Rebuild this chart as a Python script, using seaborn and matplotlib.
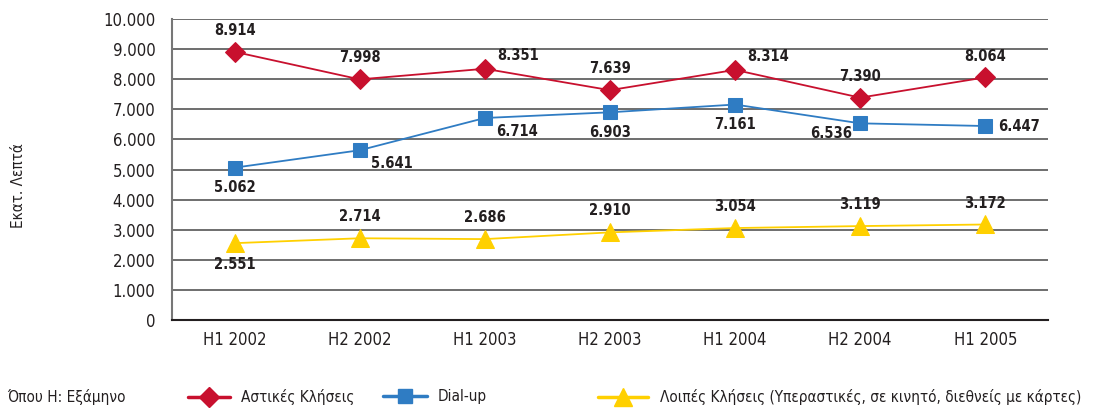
import matplotlib
matplotlib.use("Agg")
import matplotlib.pyplot as plt
import seaborn as sns
import pandas as pd
import numpy as np
from matplotlib.lines import Line2D

periods = ["H1 2002", "H2 2002", "H1 2003", "H2 2003", "H1 2004", "H2 2004", "H1 2005"]
local_calls = [8914, 7998, 8351, 7639, 8314, 7390, 8064]
dialup = [5062, 5641, 6714, 6903, 7161, 6536, 6447]
other_calls = [2551, 2714, 2686, 2910, 3054, 3119, 3172]
series_names = ["Αστικές Κλήσεις", "Dial-up",
                "Λοιπές Κλήσεις (Υπεραστικές, σε κινητό, διεθνείς με κάρτες)"]
y_ticks = [0, 1000, 2000, 3000, 4000, 5000, 6000, 7000, 8000, 9000, 10000]

colors = ["#C8102E", "#2F7CC3", "#FFD000"]
markers = ["D", "s", "^"]
msizes = [10.5, 10.5, 12.5]

sns.set_style("white")
plt.rcParams['font.family'] = ['DejaVu Sans']

df = pd.DataFrame({
    "period": periods * 3,
    "x": list(range(len(periods))) * 3,
    "value": local_calls + dialup + other_calls,
    "series": [series_names[0]] * 7 + [series_names[1]] * 7 + [series_names[2]] * 7,
})

fig = plt.figure(figsize=(11.1, 4.08), dpi=100)
ax = fig.add_axes([0.155, 0.216, 0.789, 0.737])

for i, name in enumerate(series_names):
    sub = df[df.series == name]
    sns.lineplot(data=sub, x="x", y="value", ax=ax, color=colors[i], lw=1.3,
                 marker=markers[i], markersize=msizes[i], markeredgecolor=colors[i],
                 legend=False, zorder=3)

ax.set_xlim(-0.5, 6.5)
ax.set_ylim(0, 10000)
ax.set_yticks(y_ticks)
ax.set_yticklabels([f"{v:,}".replace(",", ".") for v in y_ticks],
                   fontsize=12, fontstretch="condensed", color="#231F20")
ax.set_xticks(range(len(periods)))
ax.set_xticklabels(periods, fontsize=12, fontstretch="condensed", color="#231F20")
ax.set_xticks(np.arange(0.5, 6.5, 1), minor=True)
ax.tick_params(axis="x", which="major", length=0, pad=8)
ax.tick_params(axis="x", which="minor", length=6, width=1.2, color="#231F20", direction="out")
ax.tick_params(axis="y", which="major", length=6, width=1.2, color="#231F20", direction="out", pad=6)
ax.set_xlabel("")
ax.set_ylabel("")
ax.grid(axis="y", color="#555555", lw=1.2)
ax.set_axisbelow(True)
for s in ["top", "right"]:
    ax.spines[s].set_visible(False)
ax.spines["left"].set_color("#777777")
ax.spines["left"].set_linewidth(1.5)
ax.spines["bottom"].set_color("#231F20")
ax.spines["bottom"].set_linewidth(1.5)

lab_kw = dict(fontsize=10.5, fontweight="bold", fontstretch="condensed", color="#231F20")

def fmt(v):
    return f"{v:,}".replace(",", ".")

# offsets in points (dx, dy, ha, va)
red_pos = [(0, 10, "center", "bottom"), (0, 10, "center", "bottom"), (9, 4, "left", "bottom"),
           (0, 10, "center", "bottom"), (9, 4, "left", "bottom"), (0, 10, "center", "bottom"),
           (0, 10, "center", "bottom")]
blue_pos = [(0, -9, "center", "top"), (8, -4, "left", "top"), (8, -4, "left", "top"),
            (0, -9, "center", "top"), (0, -9, "center", "top"), (-6, -2, "right", "top"),
            (9, 0, "left", "center")]
yel_pos = [(0, -10, "center", "top")] + [(0, 10, "center", "bottom")] * 6

for vals, pos in [(local_calls, red_pos), (dialup, blue_pos), (other_calls, yel_pos)]:
    for i, v in enumerate(vals):
        dx, dy, ha, va = pos[i]
        ax.annotate(fmt(v), (i, v), xytext=(dx, dy), textcoords="offset points",
                    ha=ha, va=va, **lab_kw)

fig.text(0.017, 0.545, "Εκατ. Λεπτά", rotation=90, ha="center", va="center",
         fontsize=11, fontstretch="condensed", color="#231F20")
fig.text(0.006, 0.027, "Όπου Η: Εξάμηνο", ha="left", va="center",
         fontsize=11, fontstretch="condensed", color="#231F20")

handles = [Line2D([0], [0], color=colors[i], lw=2.5, marker=markers[i],
                  markersize=msizes[i], markeredgecolor=colors[i]) for i in range(3)]
anchors = [188, 383, 598]
hlens = [2.75, 2.85, 3.3]
for i in range(3):
    leg = fig.legend([handles[i]], [series_names[i]], loc="center left",
                     bbox_to_anchor=(anchors[i] / 1110, 0.027), frameon=False,
                     handlelength=hlens[i], handletextpad=0.75, borderpad=0,
                     borderaxespad=0, prop=dict(size=11, stretch="condensed"))
    for t in leg.get_texts():
        t.set_color("#231F20")

fig.savefig("out.png", dpi=100)
